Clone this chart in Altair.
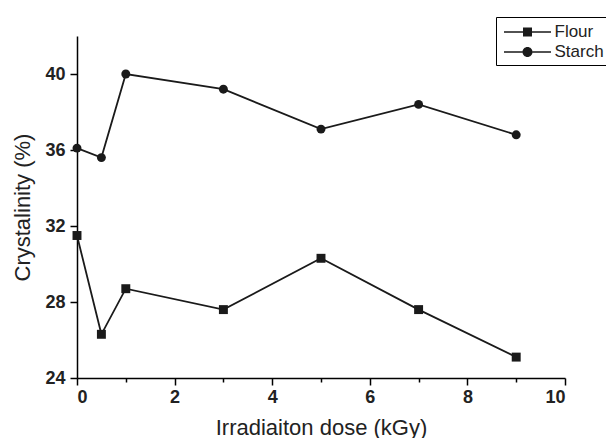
import altair as alt
import pandas as pd

dose = [0, 0.5, 1, 3, 5, 7, 9]
flour = [31.5, 26.3, 28.7, 27.6, 30.3, 27.6, 25.1]
starch = [36.1, 35.6, 40.0, 39.2, 37.1, 38.4, 36.8]
series = ["Flour", "Starch"]

df = pd.DataFrame({
    "dose": dose * 2,
    "value": flour + starch,
    "series": [series[0]] * len(dose) + [series[1]] * len(dose),
})

FONT = "Liberation Sans"
INK = "#1a1a1a"

# legend glyphs: line segment + marker; symbol size 400 -> 10 px per path unit
L = 2.35
t = 0.08
s = 0.45
r = 0.5
flour_path = (
    f"M-{L},-{t}L-{s},-{t}L-{s},{t}L-{L},{t}Z"
    f"M{s},-{t}L{L},-{t}L{L},{t}L{s},{t}Z"
    f"M-{s},-{s}L{s},-{s}L{s},{s}L-{s},{s}Z"
)
starch_path = (
    f"M-{L},-{t}L-{r},-{t}L-{r},{t}L-{L},{t}Z"
    f"M{r},-{t}L{L},-{t}L{L},{t}L{r},{t}Z"
    f"M-{r},0A{r},{r} 0 1,1 {r},0A{r},{r} 0 1,1 -{r},0Z"
)

x_enc = alt.X(
    "dose:Q",
    scale=alt.Scale(domain=[0, 10], nice=False, zero=False),
    axis=alt.Axis(
        title="Irradiaiton dose (kGy)",
        values=[0, 1, 2, 3, 4, 5, 6, 7, 8, 9, 10],
        labelExpr="datum.value % 2 == 0 ? datum.label : ''",
        tickSize={"condition": {"test": "datum.value % 2 == 1", "value": 4}, "value": 7},
        grid=False,
        domainColor="black",
        domainWidth=1.5,
        tickColor="black",
        tickWidth=1.5,
        labelFont=FONT,
        labelFontSize=18,
        labelFontWeight="bold",
        labelColor="#222",
        labelPadding=3,
        titleFont=FONT,
        titleFontSize=22,
        titleFontWeight="normal",
        titleColor="#222",
        titlePadding=11,
    ),
)
y_enc = alt.Y(
    "value:Q",
    scale=alt.Scale(domain=[24, 42], nice=False, zero=False),
    axis=alt.Axis(
        title="Crystalinity (%)",
        values=[24, 26, 28, 30, 32, 34, 36, 38, 40, 42],
        labelExpr="datum.value % 4 == 0 ? datum.label : ''",
        tickSize={"condition": {"test": "datum.value % 4 == 2", "value": 4}, "value": 7},
        grid=False,
        domainColor="black",
        domainWidth=1.5,
        tickColor="black",
        tickWidth=1.5,
        labelFont=FONT,
        labelFontSize=18,
        labelFontWeight="bold",
        labelColor="#222",
        labelPadding=5,
        titleFont=FONT,
        titleFontSize=22,
        titleFontWeight="normal",
        titleColor="#222",
        titlePadding=10,
    ),
)

lines = alt.Chart(df).mark_line(color=INK, strokeWidth=1.8).encode(
    x=x_enc, y=y_enc, detail="series:N"
)

points = alt.Chart(df).mark_point(filled=True, color=INK, opacity=1, size=80).encode(
    x="dose:Q",
    y="value:Q",
    shape=alt.Shape(
        "series:N",
        scale=alt.Scale(domain=series, range=["square", "circle"]),
        legend=None,
    ),
)

legend_layer = alt.Chart(df).transform_filter("false").mark_point(
    filled=True, color=INK, opacity=1
).encode(
    x="dose:Q",
    y="value:Q",
    shape=alt.Shape(
        "series:N",
        scale=alt.Scale(domain=series, range=[flour_path, starch_path]),
        legend=alt.Legend(
            title=None,
            orient="none",
            legendX=419,
            legendY=-19,
            symbolSize=400,
            symbolOffset=16.5,
            symbolFillColor=INK,
            symbolStrokeWidth=0,
            symbolOpacity=1,
            labelFont=FONT,
            labelFontSize=17,
            labelColor="#222",
            labelOffset=17,
            strokeColor="black",
            fillColor="white",
            padding=5,
            rowPadding=2,
        ),
    ),
)

chart = alt.layer(lines, points, legend_layer).resolve_scale(shape="independent").properties(
    width=488,
    height=342,
    autosize=alt.AutoSizeParams(type="none"),
    padding={"left": 69, "top": 28, "right": 41, "bottom": 60},
    background="white",
).configure_view(stroke=None)

chart.save("out.html", embed_options={"renderer": "svg", "actions": False})
